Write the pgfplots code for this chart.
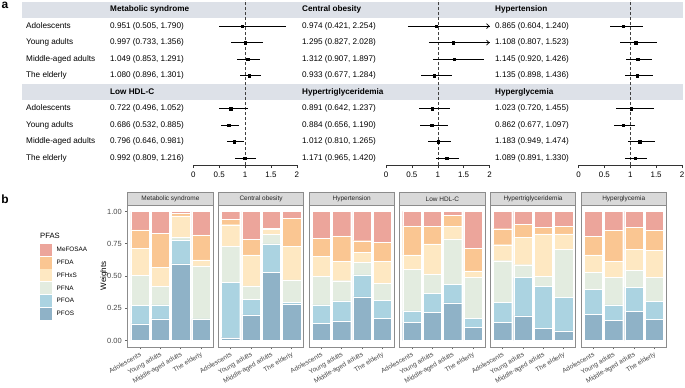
\documentclass[border=0pt]{standalone}
\usepackage{fontspec}
\setmainfont{Liberation Sans}
\setsansfont{Liberation Sans}
\usepackage{pgfplots}
\usepackage{pgfplotstable}
\pgfplotsset{compat=1.18}
\usetikzlibrary{arrows.meta}

\definecolor{band}{RGB}{221,225,232}
\definecolor{cMe}{RGB}{236,165,155}
\definecolor{cDA}{RGB}{250,198,146}
\definecolor{cHxS}{RGB}{254,232,194}
\definecolor{cNA}{RGB}{227,236,224}
\definecolor{cOA}{RGB}{171,211,225}
\definecolor{cOS}{RGB}{143,178,199}
\definecolor{stripgrey}{RGB}{217,217,217}
\definecolor{framegrey}{RGB}{140,140,140}

\newcommand{\fs}[1]{\fontsize{#1}{#1}\selectfont}

% ---- panel a: odds ratios (rows 1-4 upper outcome, 6-9 lower outcome)
\pgfplotstableread{
row or lo hi
1 0.951 0.505 1.790
2 0.997 0.733 1.356
3 1.049 0.853 1.291
4 1.080 0.896 1.301
6 0.722 0.496 1.052
7 0.686 0.532 0.885
8 0.796 0.646 0.981
9 0.992 0.809 1.216
}\fA
\pgfplotstableread{
row or lo hi
1 0.974 0.421 2.254
2 1.295 0.827 2.028
3 1.312 0.907 1.897
4 0.933 0.677 1.284
6 0.891 0.642 1.237
7 0.884 0.656 1.190
8 1.012 0.810 1.265
9 1.171 0.965 1.420
}\fB
\pgfplotstableread{
row or lo hi
1 0.865 0.604 1.240
2 1.108 0.807 1.523
3 1.145 0.920 1.426
4 1.135 0.898 1.436
6 1.023 0.720 1.455
7 0.862 0.677 1.097
8 1.183 0.949 1.474
9 1.089 0.891 1.330
}\fC

% ---- panel b: weights
\pgfplotstableread{
x PFOS PFOA PFNA PFHxS PFDA MeFOSAA
1 .129 .145 .232 .210 .142 .142
2 .168 .108 .143 .149 .264 .168
3 .594 .186 .021 .165 .018 .016
4 .165 .003 .411 .046 .194 .181
}\wA
\pgfplotstableread{
x PFOS PFOA PFNA PFHxS PFDA MeFOSAA
1 .021 .429 .279 .168 .044 .059
2 .199 .121 .104 .240 .122 .214
3 .530 .219 .075 .039 .008 .129
4 .284 .011 .175 .259 .219 .052
}\wB
\pgfplotstableread{
x PFOS PFOA PFNA PFHxS PFDA MeFOSAA
1 .134 .142 .220 .155 .142 .207
2 .152 .155 .156 .149 .199 .189
3 .338 .171 .096 .077 .091 .227
4 .173 .137 .134 .168 .148 .240
}\wC
\pgfplotstableread{
x PFOS PFOA PFNA PFHxS PFDA MeFOSAA
1 .140 .090 .323 .111 .225 .111
2 .220 .144 .150 .235 .135 .116
3 .292 .145 .351 .096 .088 .028
4 .103 .068 .320 .049 .173 .287
}\wD
\pgfplotstableread{
x PFOS PFOA PFNA PFHxS PFDA MeFOSAA
1 .140 .155 .323 .124 .124 .134
2 .191 .297 .099 .214 .101 .098
3 .096 .323 .077 .331 .049 .124
4 .075 .258 .375 .119 .057 .116
}\wE
\pgfplotstableread{
x PFOS PFOA PFNA PFHxS PFDA MeFOSAA
1 .204 .194 .129 .137 .142 .194
2 .155 .121 .215 .121 .241 .147
3 .225 .188 .130 .165 .168 .124
4 .165 .137 .189 .207 .155 .147
}\wF

\pgfplotsset{
  forest/.style={scale only axis, width=103.5bp, height=165bp, anchor=north west,
    xmin=0, xmax=2, ymin=-9.418, ymax=0.582,
    axis x line*=bottom, axis y line=none,
    xtick={0,0.5,1,1.5,2}, xticklabels={0,0.5,1,1.5,2},
    tick align=outside, major tick length=3bp,
    tick style={black!80, line width=0.5bp},
    x axis line style={black!80, line width=0.5bp, -},
    ticklabel style={font=\fs{8}}, clip=false,
    /pgf/number format/assume math mode=true},
  fplot/.style={only marks, mark=square*, mark size=1.15bp, black,
    error bars/.cd, x dir=both, x explicit, error mark=none,
    error bar style={line width=0.7bp, black}},
  fline/.style={black!75, line width=0.5bp, dash pattern=on 3bp off 2bp},
  wbar/.style={scale only axis, width=85.5bp, height=141.9bp, anchor=north west,
    xmin=0.4, xmax=4.6, ymin=-0.05, ymax=1.05,
    ybar stacked, bar width=0.9,
    axis line style={framegrey, line width=0.8bp},
    xtick={1,2,3,4},
    xticklabels={Adolescents,Young adults,Middle-aged adults,The elderly},
    xtick pos=left, ytick pos=left, tick align=outside, major tick length=2.5bp,
    tick style={black!60, line width=0.5bp},
    xticklabel style={rotate=30, anchor=north east, font=\fs{6.6}, text=black!72, inner sep=1.5bp},
    ytick=\empty,
    /pgf/number format/assume math mode=true},
}

\newcommand{\wbars}[1]{%
  \addplot[fill=cOS, draw=white, line width=0.3bp] table[x=x, y=PFOS] {#1};
  \addplot[fill=cOA, draw=white, line width=0.3bp] table[x=x, y=PFOA] {#1};
  \addplot[fill=cNA, draw=white, line width=0.3bp] table[x=x, y=PFNA] {#1};
  \addplot[fill=cHxS, draw=white, line width=0.3bp] table[x=x, y=PFHxS] {#1};
  \addplot[fill=cDA, draw=white, line width=0.3bp] table[x=x, y=PFDA] {#1};
  \addplot[fill=cMe, draw=white, line width=0.3bp] table[x=x, y=MeFOSAA] {#1};
}
\newcommand{\fpts}[1]{%
  \addplot[fplot] table[x=or, y expr=-\thisrow{row},
    x error plus expr={min(\thisrow{hi},2)-\thisrow{or}},
    x error minus expr={\thisrow{or}-\thisrow{lo}}] {#1};
}

\begin{document}
\begin{tikzpicture}
\useasboundingbox (0,0) rectangle (685bp,-388bp);

\begin{scope}[x=1bp, y=-1bp]
  % header bands
  \fill[band] (22,1.6) rectangle (683,17.6);
  \fill[band] (22,84.1) rectangle (683,100.1);
  \node[font=\fs{12}\bfseries] at (5,5) {a};
  \node[font=\fs{12}\bfseries] at (5,199) {b};
  \begin{scope}[every node/.style={anchor=west, font=\fs{8.2}, text height=6bp, text depth=1.6bp, inner sep=0pt}]
    \foreach \k/\n in {1/Adolescents,2/Young adults,3/Middle-aged adults,4/The elderly}{
      \node at (26,9.6+16.5*\k) {\n};
      \node at (26,92.1+16.5*\k) {\n};
    }
    \node[font=\fs{8.2}\bfseries] at (110,9.6) {Metabolic syndrome};
    \node[font=\fs{8.2}\bfseries] at (302,9.6) {Central obesity};
    \node[font=\fs{8.2}\bfseries] at (495,9.6) {Hypertension};
    \node[font=\fs{8.2}\bfseries] at (110,92.1) {Low HDL-C};
    \node[font=\fs{8.2}\bfseries] at (302,92.1) {Hypertriglyceridemia};
    \node[font=\fs{8.2}\bfseries] at (495,92.1) {Hyperglycemia};
    % column 1
    \node at (110,26.1) {0.951 (0.505, 1.790)};
    \node at (110,42.6) {0.997 (0.733, 1.356)};
    \node at (110,59.1) {1.049 (0.853, 1.291)};
    \node at (110,75.6) {1.080 (0.896, 1.301)};
    \node at (110,108.6) {0.722 (0.496, 1.052)};
    \node at (110,125.1) {0.686 (0.532, 0.885)};
    \node at (110,141.6) {0.796 (0.646, 0.981)};
    \node at (110,158.1) {0.992 (0.809, 1.216)};
    % column 2
    \node at (302,26.1) {0.974 (0.421, 2.254)};
    \node at (302,42.6) {1.295 (0.827, 2.028)};
    \node at (302,59.1) {1.312 (0.907, 1.897)};
    \node at (302,75.6) {0.933 (0.677, 1.284)};
    \node at (302,108.6) {0.891 (0.642, 1.237)};
    \node at (302,125.1) {0.884 (0.656, 1.190)};
    \node at (302,141.6) {1.012 (0.810, 1.265)};
    \node at (302,158.1) {1.171 (0.965, 1.420)};
    % column 3
    \node at (495,26.1) {0.865 (0.604, 1.240)};
    \node at (495,42.6) {1.108 (0.807, 1.523)};
    \node at (495,59.1) {1.145 (0.920, 1.426)};
    \node at (495,75.6) {1.135 (0.898, 1.436)};
    \node at (495,108.6) {1.023 (0.720, 1.455)};
    \node at (495,125.1) {0.862 (0.677, 1.097)};
    \node at (495,141.6) {1.183 (0.949, 1.474)};
    \node at (495,158.1) {1.089 (0.891, 1.330)};
  \end{scope}

  % facet strips
  \foreach \i/\t in {0/Metabolic syndrome,1/Central obesity,2/Hypertension,3/Low HDL-C,4/Hypertriglyceridemia,5/Hyperglycemia}{
    \pgfmathsetmacro\xl{127.7+90.65*\i}
    \filldraw[fill=stripgrey, draw=framegrey, line width=0.8bp] (\xl,192.5) rectangle ++(85.5,12.5);
    \node[font=\fs{6.5}, text=black!85] at (\xl+42.75,198.9) {\t};
  }

  % legend
  \node[anchor=west, font=\fs{7.7}, inner sep=0pt] at (40,236) {PFAS};
  \foreach \c/\l [count=\k from 0] in {cMe/MeFOSAA,cDA/PFDA,cHxS/PFHxS,cNA/PFNA,cOA/PFOA,cOS/PFOS}{
    \fill[\c] (40,243.8+12.75*\k) rectangle (52.3,255.8+12.75*\k);
    \node[anchor=west, font=\fs{6.4}, inner sep=0pt] at (56.5,249.8+12.75*\k) {\l};
  }
  \node[rotate=90, font=\fs{8}] at (104,276) {Weights};
\end{scope}

% ---- forest plots
\begin{axis}[forest, at={(193.3bp,0bp)}]
  \addplot[fline] coordinates {(1,-9.418) (1,0.582)};
  \fpts{\fA}
\end{axis}
\begin{axis}[forest, at={(386bp,0bp)}]
  \addplot[fline] coordinates {(1,-9.418) (1,0.582)};
  \fpts{\fB}
  \addplot[black, line width=0.7bp, -{Straight Barb[length=2.5bp, width=5bp]}] coordinates {(0.421,-1) (2,-1)};
  \addplot[black, line width=0.7bp, -{Straight Barb[length=2.5bp, width=5bp]}] coordinates {(0.827,-2) (2,-2)};
\end{axis}
\begin{axis}[forest, at={(578.5bp,0bp)}]
  \addplot[fline] coordinates {(1,-9.418) (1,0.582)};
  \fpts{\fC}
\end{axis}

% ---- stacked weights
\begin{axis}[wbar, at={(127.7bp,-205bp)},
    ytick={0,0.25,0.5,0.75,1}, yticklabels={0.00,0.25,0.50,0.75,1.00},
    yticklabel style={font=\fs{7.5}, text=black!72}]
  \wbars{\wA}
\end{axis}
\begin{axis}[wbar, at={(218.35bp,-205bp)}]
  \wbars{\wB}
\end{axis}
\begin{axis}[wbar, at={(309bp,-205bp)}]
  \wbars{\wC}
\end{axis}
\begin{axis}[wbar, at={(399.65bp,-205bp)}]
  \wbars{\wD}
\end{axis}
\begin{axis}[wbar, at={(490.3bp,-205bp)}]
  \wbars{\wE}
\end{axis}
\begin{axis}[wbar, at={(580.95bp,-205bp)}]
  \wbars{\wF}
\end{axis}
\end{tikzpicture}
\end{document}
